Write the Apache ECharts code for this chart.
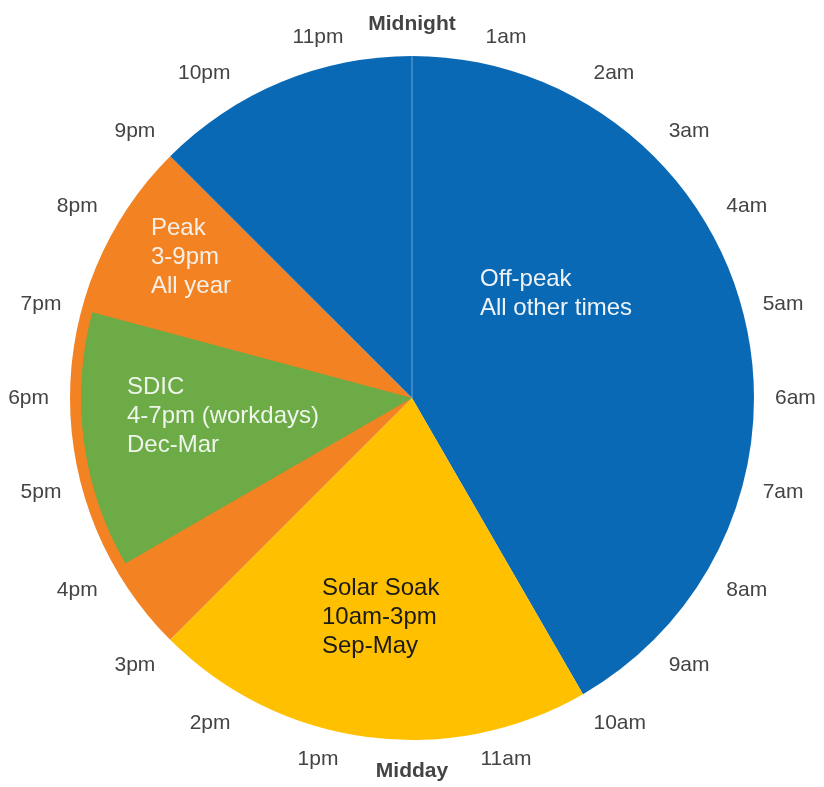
<!DOCTYPE html>
<html>
<head>
<meta charset="utf-8">
<script src="https://cdn.jsdelivr.net/npm/echarts@6/dist/echarts.min.js"></script>
<style>html,body{margin:0;padding:0;background:#fff;}#c{width:824px;height:787px;}</style>
</head>
<body>
<div id="c"></div>
<script>
// ---- data ----
const hourLabels = ['Midnight','1am','2am','3am','4am','5am','6am','7am','8am','9am','10am','11am',
                    'Midday','1pm','2pm','3pm','4pm','5pm','6pm','7pm','8pm','9pm','10pm','11pm'];
const boldHours = ['Midnight','Midday'];
// main tariff periods, clockwise from midnight (hours long)
const tariffNames = ['Off-peak','Solar Soak','Peak','Off-peak (late)'];
const tariffHours = [10, 5, 6, 3];
const tariffText  = ['Off-peak\nAll other times', 'Solar Soak\n10am-3pm\nSep-May', 'Peak\n3-9pm\nAll year', ''];
// overlay period (SDIC inside peak), clockwise from midnight
const overlayNames = ['before', 'SDIC', 'after'];
const overlayHours = [16, 3, 5];
const overlayText  = ['', 'SDIC\n4-7pm (workdays)\nDec-Mar', ''];

// ---- styles / layout ----
const CX = 412, CY = 398, R = 342, R2 = 331;
const tariffColors = ['#0a69b4', '#ffc000', '#f28222', '#0a69b4'];
const tariffTextColors = ['#eef3f8', '#1a1a1a', '#f6f0e8', '#fff'];
const overlayColor = '#6cab46';
// label block anchors (left x, vertical middle) relative to centre
const labelPos = {
  '0-0': [68, -104],
  '0-1': [-90, 219],
  '0-2': [-261, -141],
  '1-1': [-285, 18]
};
// only the midnight radius gets a faint separator line
const splitColors = hourLabels.map((h, i) => i === 0 ? 'rgba(255,255,255,0.4)' : 'rgba(0,0,0,0)');

const chart = echarts.init(document.getElementById('c'), null, {renderer: 'canvas'});
const FONT = '"Liberation Sans", Arial, sans-serif';

function labelLayout(p) {
  const key = p.seriesIndex + '-' + p.dataIndex;
  const pos = labelPos[key];
  if (!pos) return {};
  return {x: CX + pos[0], y: CY + pos[1], align: 'left', verticalAlign: 'middle'};
}

chart.setOption({
  animation: false,
  backgroundColor: '#fff',
  polar: [
    {center: [CX, CY], radius: R},
    {center: [CX, CY], radius: R}
  ],
  angleAxis: [
    {
      polarIndex: 0,
      type: 'category',
      data: hourLabels,
      startAngle: 90 + 7.5,
      clockwise: true,
      boundaryGap: true,
      axisLine: {show: false},
      axisTick: {show: false},
      splitLine: {show: false},
      axisLabel: {
        interval: 0,
        margin: 21,
        fontSize: 21,
        fontFamily: FONT,
        color: '#444',
        formatter: v => boldHours.indexOf(v) >= 0 ? '{b|' + v + '}' : v,
        rich: {b: {fontWeight: 'bold', fontSize: 21, fontFamily: FONT, color: '#444'}}
      }
    },
    {
      polarIndex: 1,
      type: 'category',
      data: hourLabels,
      startAngle: 90,
      clockwise: true,
      boundaryGap: true,
      z: 10,
      axisLine: {show: false},
      axisTick: {show: false},
      axisLabel: {show: false},
      splitLine: {
        show: true,
        lineStyle: {color: splitColors, width: 1}
      }
    }
  ],
  radiusAxis: [
    {polarIndex: 0, show: false},
    {polarIndex: 1, show: false}
  ],
  series: [
    {
      type: 'pie',
      center: [CX, CY],
      radius: [0, R],
      startAngle: 90,
      clockwise: true,
      silent: true,
      labelLine: {show: false},
      labelLayout: labelLayout,
      data: tariffNames.map((n, i) => ({
        name: n,
        value: tariffHours[i],
        itemStyle: {color: tariffColors[i]},
        label: {
          show: tariffText[i] !== '',
          position: 'inside',
          formatter: tariffText[i],
          color: tariffTextColors[i],
          fontSize: 24,
          lineHeight: 29,
          fontFamily: FONT,
          align: 'left'
        }
      }))
    },
    {
      type: 'pie',
      center: [CX, CY],
      radius: [0, R2],
      startAngle: 90,
      clockwise: true,
      silent: true,
      labelLine: {show: false},
      labelLayout: labelLayout,
      data: overlayNames.map((n, i) => ({
        name: n,
        value: overlayHours[i],
        itemStyle: {color: overlayText[i] ? overlayColor : 'rgba(0,0,0,0)'},
        label: {
          show: overlayText[i] !== '',
          position: 'inside',
          formatter: overlayText[i],
          color: '#eef5ea',
          fontSize: 24,
          lineHeight: 29,
          fontFamily: FONT,
          align: 'left'
        }
      }))
    }
  ]
});
</script>
</body>
</html>
